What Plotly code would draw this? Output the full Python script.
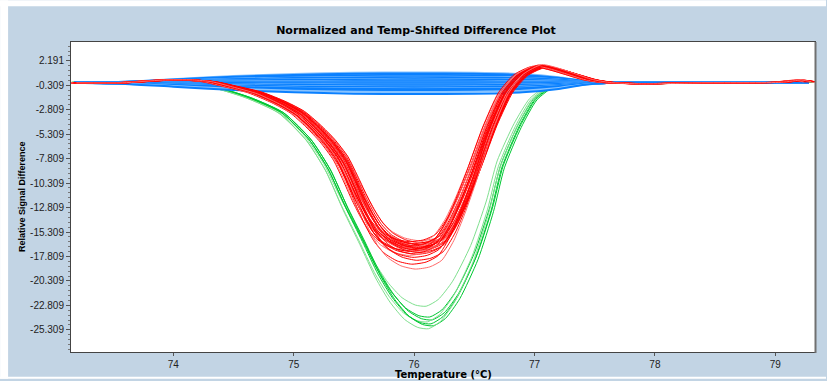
import plotly.graph_objects as go

# ---------------- data ----------------
# representative red profile (temperature °C, relative signal difference)
red_temp = [73.175, 73.56, 73.89, 74.14, 74.30, 74.47, 74.68, 74.88, 75.03, 75.16, 75.28, 75.39,
            75.47, 75.54, 75.61, 75.68, 75.76, 75.87, 75.99, 76.11, 76.21, 76.31, 76.40, 76.50,
            76.63, 76.76, 76.89, 77.04, 77.18, 77.32, 77.46, 77.60, 77.87, 78.37, 79.03, 79.20,
            79.28]
red_sig = [-0.05, -0.05, 0.20, 0.22, 0.05, -0.42, -1.06, -2.08, -3.09, -4.49, -6.04, -7.87,
           -9.90, -11.80, -13.50, -14.90, -15.95, -16.70, -17.00, -16.80, -16.20, -14.40, -12.00,
           -8.89, -4.52, -1.06, 0.77, 1.61, 1.28, 0.77, 0.26, -0.01, -0.15, -0.05, 0.0, 0.20, 0.05]
red_depths = [16.2, 16.3, 16.4, 16.5, 16.5, 16.6, 16.6, 16.7, 16.7, 16.8, 16.8, 16.9, 16.9, 17.0,
              17.0, 17.1, 17.1, 17.2, 17.2, 17.3, 17.3, 17.4, 17.5, 17.6, 17.7, 17.9, 18.2, 18.6, 19.1]
red_shifts = [0.05, -0.03, 0.06, 0.00, -0.05, 0.03, 0.05, -0.02, 0.01, -0.04, 0.04, 0.02, -0.04, 0.00,
              0.05, -0.01, 0.03, -0.06, 0.04, -0.03, 0.01, 0.04, -0.02, 0.02, -0.04, 0.00, 0.03, -0.01, 0.02]

# representative green profile
green_temp = [73.175, 73.81, 74.33, 74.61, 74.88, 75.11, 75.27, 75.41, 75.55, 75.68, 75.80, 75.92,
              76.03, 76.12, 76.22, 76.34, 76.49, 76.62, 76.71, 76.85, 76.98, 77.12, 77.31, 77.46,
              77.60, 77.87, 78.37, 79.28]
green_sig = [0.05, -0.05, -0.55, -1.57, -3.09, -5.84, -8.89, -12.65, -16.10, -19.40, -21.80, -23.50,
             -24.30, -24.43, -23.70, -21.70, -17.80, -12.95, -8.58, -4.52, -1.77, -0.45, 0.06, 0.16,
             0.00, -0.15, -0.05, 0.05]
green_depths = [22.9, 24.0, 24.3, 24.5, 24.7, 24.9, 25.2]
green_shifts = [-0.02, 0.01, 0.03, -0.01, 0.02, 0.04, 0.00]

# representative blue profile (normalised, multiplied by per-curve amplitude)
blue_temp = [73.175, 73.6, 74.0, 74.5, 75.0, 75.5, 76.0, 76.5, 76.9, 77.2, 77.4, 77.6, 78.0, 79.28]
blue_shape = [0.0, 0.10, 0.35, 0.65, 0.85, 0.97, 1.0, 0.97, 0.85, 0.55, 0.20, 0.03, 0.0, 0.0]
blue_amps = [1.05, 0.95, 0.8, 0.7, 0.62, 0.56, 0.5, 0.45, 0.4, 0.35, 0.3, 0.25, 0.2, 0.15, 0.1,
             0.05, 0.0, -0.05, -0.1, -0.15, -0.2, -0.25, -0.3, -0.35, -0.4, -0.45, -0.5, -0.55,
             -0.6, -0.65, -0.7, -0.8, -0.95, -1.15]

y_ticklabels = ["2.191", "-0.309", "-2.809", "-5.309", "-7.809", "-10.309", "-12.809",
                "-15.309", "-17.809", "-20.309", "-22.809", "-25.309"]
x_ticks = [74, 75, 76, 77, 78, 79]

# ---------------- figure ----------------
fig = go.Figure()

green_min = min(green_sig)
for i, (d, s) in enumerate(zip(green_depths, green_shifts)):
    k = d / -green_min
    fig.add_trace(go.Scatter(
        x=[t + s for t in green_temp], y=[v * k for v in green_sig],
        mode="lines", line=dict(color="#00c832" if i % 3 else "#7fe08f", width=1,
                                shape="spline", smoothing=0.6),
        hoverinfo="skip"))

for i, a in enumerate(blue_amps):
    fig.add_trace(go.Scatter(
        x=blue_temp, y=[a * b - 0.05 for b in blue_shape],
        mode="lines", line=dict(color="#0a80ff" if i % 4 else "#86c2ff", width=2,
                                shape="spline", smoothing=0.6),
        hoverinfo="skip"))

red_min = min(red_sig)
for i, (d, s) in enumerate(zip(red_depths, red_shifts)):
    k = d / -red_min
    fig.add_trace(go.Scatter(
        x=[t + s for t in red_temp], y=[v * k for v in red_sig],
        mode="lines", line=dict(color="#ff0000" if i % 4 else "#ff6a6a", width=1,
                                shape="spline", smoothing=0.6),
        hoverinfo="skip"))

yvals = [float(s) for s in y_ticklabels]

W, H = 827, 381
L, R, T, B = 71, 11, 42, 27
pw, ph = W - L - R, H - T - B


def px_x(px):
    return (px - L) / pw


def px_y(py):
    return (H - B - py) / ph


fig.update_layout(
    width=W, height=H, autosize=False,
    margin=dict(l=L, r=R, t=T, b=B),
    paper_bgcolor="#c2d4e4", plot_bgcolor="white",
    showlegend=False,
    font=dict(family="Liberation Sans, Arial, sans-serif", size=10, color="#222222"),
    title=dict(text="<b>Normalized and Temp-Shifted Difference Plot</b>",
               x=416 / W, xanchor="center", y=1 - 30 / H, yanchor="middle", yref="container",
               font=dict(family="DejaVu Sans, sans-serif", size=11, color="#000000")),
    xaxis=dict(range=[73.15, 79.33], tickvals=x_ticks, ticktext=[str(v) for v in x_ticks],
               ticks="outside", ticklen=3, tickcolor="#555555", showgrid=False, zeroline=False,
               showline=True, linecolor="#444444", linewidth=1, mirror=True,
               tickfont=dict(size=10, color="#222222")),
    yaxis=dict(range=[-27.58, 4.12], tickvals=yvals, ticktext=y_ticklabels,
               ticks="outside", ticklen=4, tickcolor="#555555", showgrid=False, zeroline=False,
               showline=True, linecolor="#444444", linewidth=1, mirror=True,
               tickfont=dict(size=10, color="#222222"),
               minor=dict(tick0=2.191, dtick=0.5, ticks="outside", ticklen=2, tickcolor="#777777")),
    shapes=[
        # white strips round the light-blue panel
        dict(type="rect", xref="paper", yref="paper", x0=px_x(0), x1=px_x(W), y0=px_y(6), y1=px_y(0),
             fillcolor="white", line=dict(width=0), layer="above"),
        dict(type="rect", xref="paper", yref="paper", x0=px_x(0), x1=px_x(8), y0=px_y(H), y1=px_y(0),
             fillcolor="white", line=dict(width=0), layer="above"),
        dict(type="rect", xref="paper", yref="paper", x0=px_x(0), x1=px_x(W), y0=px_y(H), y1=px_y(379),
             fillcolor="white", line=dict(width=0), layer="above"),
        # darker right edge of the plot frame
        dict(type="line", xref="paper", yref="paper", x0=px_x(816.5), x1=px_x(816.5),
             y0=px_y(355), y1=px_y(42), line=dict(color="#707070", width=2), layer="above"),
    ],
    annotations=[
        dict(text="<b>Temperature (°C)</b>", xref="paper", yref="paper", x=0.5, y=px_y(369),
             xanchor="center", yanchor="top", showarrow=False,
             font=dict(family="DejaVu Sans, sans-serif", size=10, color="#000000")),
        dict(text="<b>Relative Signal Difference</b>", xref="paper", yref="paper",
             x=px_x(22), y=0.5, textangle=-90, xanchor="center", yanchor="middle",
             showarrow=False, font=dict(family="Liberation Sans, Arial, sans-serif", size=9,
                                        color="#000000")),
    ],
)

fig.write_html("out.html")
